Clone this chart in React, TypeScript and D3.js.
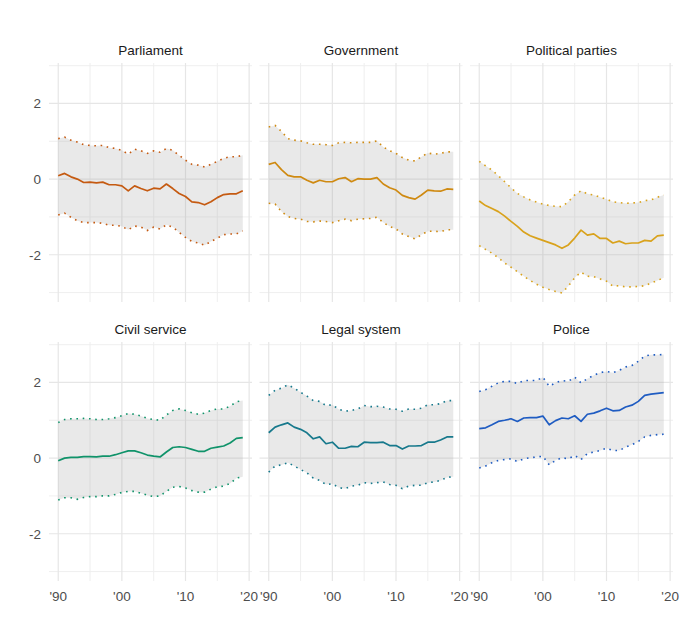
import * as d3 from "d3";
import { useEffect, useRef } from "react";

const years = [
  1990, 1991, 1992, 1993, 1994, 1995, 1996, 1997, 1998, 1999, 2000, 2001,
  2002, 2003, 2004, 2005, 2006, 2007, 2008, 2009, 2010, 2011, 2012, 2013,
  2014, 2015, 2016, 2017, 2018, 2019,
];

// Parliament
const parliamentMean = [
  0.09, 0.15, 0.06, 0.0, -0.09, -0.08, -0.1, -0.08, -0.15, -0.15, -0.18,
  -0.31, -0.18, -0.25, -0.31, -0.24, -0.26, -0.13, -0.25, -0.38, -0.46, -0.6,
  -0.62, -0.68, -0.6, -0.49, -0.41, -0.39, -0.39, -0.31,
];
const parliamentUpper = [
  1.07, 1.11, 1.03, 0.98, 0.91, 0.89, 0.88, 0.89, 0.83, 0.81, 0.76, 0.66,
  0.79, 0.75, 0.68, 0.75, 0.71, 0.81, 0.76, 0.63, 0.5, 0.39, 0.37, 0.32, 0.39,
  0.47, 0.55, 0.59, 0.59, 0.63,
];
const parliamentLower = [
  -0.95, -0.9, -1.01, -1.1, -1.15, -1.15, -1.15, -1.17, -1.22, -1.22, -1.25,
  -1.34, -1.24, -1.27, -1.36, -1.27, -1.32, -1.21, -1.27, -1.41, -1.54, -1.65,
  -1.69, -1.75, -1.65, -1.56, -1.47, -1.45, -1.45, -1.37,
];

// Government
const governmentMean = [
  0.39, 0.44, 0.25, 0.1, 0.06, 0.06, -0.03, -0.1, -0.03, -0.07, -0.07, 0.01,
  0.04, -0.07, 0.01, 0.0, 0.0, 0.04, -0.13, -0.23, -0.29, -0.43, -0.49, -0.53,
  -0.42, -0.29, -0.31, -0.32, -0.26, -0.27,
];
const governmentUpper = [
  1.38, 1.42, 1.26, 1.07, 1.03, 1.01, 0.96, 0.92, 0.92, 0.91, 0.89, 0.96,
  0.97, 0.96, 0.97, 0.97, 0.97, 1.01, 0.85, 0.75, 0.68, 0.57, 0.5, 0.48, 0.59,
  0.69, 0.66, 0.68, 0.72, 0.72,
];
const governmentLower = [
  -0.64, -0.66, -0.86, -0.99, -1.04, -1.06, -1.12, -1.13, -1.11, -1.12, -1.15,
  -1.1, -1.06, -1.1, -1.06, -1.05, -1.04, -1.01, -1.15, -1.25, -1.32, -1.45,
  -1.52, -1.58, -1.47, -1.38, -1.38, -1.39, -1.34, -1.34,
];

// Political parties
const partiesMean = [
  -0.58, -0.7, -0.78, -0.86, -0.98, -1.12, -1.25, -1.4, -1.5, -1.56, -1.62,
  -1.68, -1.74, -1.83, -1.74, -1.56, -1.35, -1.48, -1.45, -1.57, -1.57, -1.69,
  -1.64, -1.71, -1.69, -1.69, -1.62, -1.64, -1.5, -1.48,
];
const partiesUpper = [
  0.47, 0.35, 0.24, 0.09, -0.07, -0.23, -0.38, -0.47, -0.55, -0.61, -0.66,
  -0.7, -0.72, -0.73, -0.6, -0.42, -0.31, -0.39, -0.42, -0.48, -0.53, -0.6,
  -0.62, -0.64, -0.63, -0.62, -0.57, -0.55, -0.48, -0.42,
];
const partiesLower = [
  -1.76, -1.86, -1.96, -2.08, -2.22, -2.33, -2.45, -2.57, -2.68, -2.78, -2.86,
  -2.92, -2.97, -3.01, -2.83, -2.61, -2.46, -2.57, -2.58, -2.64, -2.7, -2.83,
  -2.82, -2.85, -2.85, -2.84, -2.82, -2.75, -2.68, -2.61,
];

// Civil service
const civilMean = [
  -0.07, 0.0, 0.02, 0.02, 0.04, 0.04, 0.03, 0.05, 0.05, 0.09, 0.14, 0.19,
  0.19, 0.14, 0.08, 0.05, 0.03, 0.16, 0.28, 0.3, 0.28, 0.23, 0.18, 0.18, 0.26,
  0.29, 0.32, 0.4, 0.52, 0.54,
];
const civilUpper = [
  0.94, 1.02, 1.04, 1.04, 1.05, 1.04, 1.02, 1.02, 1.04, 1.07, 1.12, 1.18,
  1.16, 1.11, 1.05, 1.02, 1.0, 1.14, 1.26, 1.3, 1.26, 1.2, 1.16, 1.19, 1.26,
  1.3, 1.3, 1.37, 1.49, 1.52,
];
const civilLower = [
  -1.11, -1.05, -1.05, -1.09, -1.04, -1.02, -1.02, -1.0, -1.0, -0.96, -0.91,
  -0.88, -0.88, -0.93, -0.98, -1.02, -1.0, -0.88, -0.77, -0.75, -0.79, -0.86,
  -0.9, -0.9, -0.82, -0.76, -0.74, -0.67, -0.53, -0.49,
];

// Legal system
const legalMean = [
  0.67, 0.82, 0.88, 0.93, 0.82, 0.76, 0.67, 0.51, 0.56, 0.38, 0.42, 0.26,
  0.26, 0.31, 0.3, 0.42, 0.41, 0.41, 0.42, 0.33, 0.33, 0.24, 0.32, 0.32, 0.33,
  0.42, 0.42, 0.48, 0.56, 0.56,
];
const legalUpper = [
  1.66, 1.79, 1.85, 1.94, 1.85, 1.74, 1.64, 1.52, 1.5, 1.39, 1.41, 1.29, 1.24,
  1.26, 1.3, 1.39, 1.36, 1.37, 1.35, 1.3, 1.29, 1.24, 1.3, 1.29, 1.32, 1.41,
  1.41, 1.44, 1.52, 1.52,
];
const legalLower = [
  -0.37, -0.21, -0.18, -0.12, -0.21, -0.3, -0.39, -0.53, -0.59, -0.7, -0.68,
  -0.78, -0.81, -0.74, -0.72, -0.65, -0.67, -0.65, -0.63, -0.7, -0.72, -0.81,
  -0.74, -0.72, -0.72, -0.65, -0.63, -0.59, -0.51, -0.49,
];

// Police
const policeMean = [
  0.78, 0.8, 0.88, 0.97, 1.0, 1.04, 0.97, 1.06, 1.07, 1.07, 1.11, 0.88, 0.99,
  1.06, 1.04, 1.12, 0.97, 1.16, 1.19, 1.25, 1.32, 1.25, 1.26, 1.35, 1.4, 1.5,
  1.66, 1.69, 1.71, 1.73,
];
const policeUpper = [
  1.76, 1.81, 1.9, 1.99, 2.03, 2.03, 1.97, 2.05, 2.05, 2.05, 2.14, 1.9, 1.99,
  2.05, 2.03, 2.14, 1.99, 2.1, 2.19, 2.26, 2.29, 2.26, 2.32, 2.41, 2.45, 2.56,
  2.7, 2.73, 2.73, 2.74,
];
const policeLower = [
  -0.26, -0.21, -0.12, -0.06, -0.04, -0.02, -0.09, -0.02, 0.01, 0.03, 0.05,
  -0.18, -0.06, 0.01, -0.02, 0.07, -0.04, 0.12, 0.16, 0.2, 0.26, 0.2, 0.2,
  0.29, 0.35, 0.44, 0.56, 0.6, 0.62, 0.63,
];

const titles = [
  "Parliament",
  "Government",
  "Political parties",
  "Civil service",
  "Legal system",
  "Police",
];
const colors = ["#c55a11", "#cf8a12", "#d9a21c", "#10936a", "#17798c", "#1f5cc2"];

const xMajor = [1990, 2000, 2010, 2020];
const xTickLabels = ["'90", "'00", "'10", "'20"];
const xMinor = [1995, 2005, 2015];
const yMajor = [-2, 0, 2];
const yMinor = [-3, -1, 1, 3];

export default function App() {
  const svgRef = useRef<SVGSVGElement>(null);

  useEffect(() => {
    if (!svgRef.current) return;
    const root = d3.select(svgRef.current);
    root.selectAll("*").remove();

    const panels = [
      { mean: parliamentMean, upper: parliamentUpper, lower: parliamentLower },
      { mean: governmentMean, upper: governmentUpper, lower: governmentLower },
      { mean: partiesMean, upper: partiesUpper, lower: partiesLower },
      { mean: civilMean, upper: civilUpper, lower: civilLower },
      { mean: legalMean, upper: legalUpper, lower: legalLower },
      { mean: policeMean, upper: policeUpper, lower: policeLower },
    ].map((p, i) => ({ ...p, title: titles[i], color: colors[i] }));

    // Facet layout
    const left = 49;
    const top = 63;
    const panelW = 203;
    const panelH = 239;
    const stepX = 210.5;
    const stepY = 279;
    const font = "'Liberation Sans', Arial, sans-serif";

    const x = d3.scaleLinear().domain([1988.55, 2020.45]).range([0, panelW]);
    const y = d3.scaleLinear().domain([-3.25, 3.07]).range([panelH, 0]);

    const area = d3
      .area<number>()
      .x((_, i) => x(years[i]))
      .y0((d) => y(d));

    const line = d3
      .line<number>()
      .x((_, i) => x(years[i]))
      .y((d) => y(d));

    panels.forEach((p, i) => {
      const col = i % 3;
      const row = Math.floor(i / 3);
      const g = root
        .append("g")
        .attr("transform", `translate(${left + col * stepX},${top + row * stepY})`);

      // grid
      g.selectAll(".minor-v")
        .data(xMinor)
        .enter()
        .append("line")
        .attr("x1", (d) => x(d))
        .attr("x2", (d) => x(d))
        .attr("y1", 0)
        .attr("y2", panelH)
        .attr("stroke", "#ededed")
        .attr("stroke-width", 0.9);
      g.selectAll(".minor-h")
        .data(yMinor)
        .enter()
        .append("line")
        .attr("x1", 0)
        .attr("x2", panelW)
        .attr("y1", (d) => y(d))
        .attr("y2", (d) => y(d))
        .attr("stroke", "#ededed")
        .attr("stroke-width", 0.9);
      g.selectAll(".major-v")
        .data(xMajor)
        .enter()
        .append("line")
        .attr("x1", (d) => x(d))
        .attr("x2", (d) => x(d))
        .attr("y1", 0)
        .attr("y2", panelH)
        .attr("stroke", "#e6e6e6")
        .attr("stroke-width", 1.2);
      g.selectAll(".major-h")
        .data(yMajor)
        .enter()
        .append("line")
        .attr("x1", 0)
        .attr("x2", panelW)
        .attr("y1", (d) => y(d))
        .attr("y2", (d) => y(d))
        .attr("stroke", "#e6e6e6")
        .attr("stroke-width", 1.2);

      // ribbon between lower and upper bound
      g.append("path")
        .datum(p.lower)
        .attr("d", area.y1((_, k) => y(p.upper[k]))(p.lower) as string)
        .attr("fill", "#9a9a9a")
        .attr("fill-opacity", 0.22);

      // dotted bounds
      [p.upper, p.lower].forEach((b) => {
        g.append("path")
          .attr("d", line(b) as string)
          .attr("fill", "none")
          .attr("stroke", p.color)
          .attr("stroke-width", 1.6)
          .attr("stroke-dasharray", "1.6 4.7");
      });

      // mean line
      g.append("path")
        .attr("d", line(p.mean) as string)
        .attr("fill", "none")
        .attr("stroke", p.color)
        .attr("stroke-width", 1.7)
        .attr("stroke-linejoin", "round");

      // strip title
      g.append("text")
        .attr("x", panelW / 2)
        .attr("y", -8)
        .attr("text-anchor", "middle")
        .style("font-family", font)
        .style("font-size", "13.5px")
        .style("fill", "#1a1a1a")
        .text(p.title);

      // y labels on first column
      if (col === 0) {
        g.selectAll(".ylab")
          .data(yMajor)
          .enter()
          .append("text")
          .attr("x", -8)
          .attr("y", (d) => y(d))
          .attr("dy", "0.36em")
          .attr("text-anchor", "end")
          .style("font-family", font)
          .style("font-size", "13.5px")
          .style("fill", "#4d4d4d")
          .text((d) => String(d));
      }

      // x labels on bottom row
      if (row === 1) {
        g.selectAll(".xlab")
          .data(xMajor)
          .enter()
          .append("text")
          .attr("x", (d) => x(d))
          .attr("y", panelH + 20)
          .attr("text-anchor", "middle")
          .style("font-family", font)
          .style("font-size", "13.5px")
          .style("fill", "#4d4d4d")
          .text((_, k) => xTickLabels[k]);
      }
    });
  }, []);

  return (
    <svg
      ref={svgRef}
      width={680}
      height={632}
      style={{ position: "absolute", left: 0, top: 0, background: "#fff" }}
    />
  );
}
